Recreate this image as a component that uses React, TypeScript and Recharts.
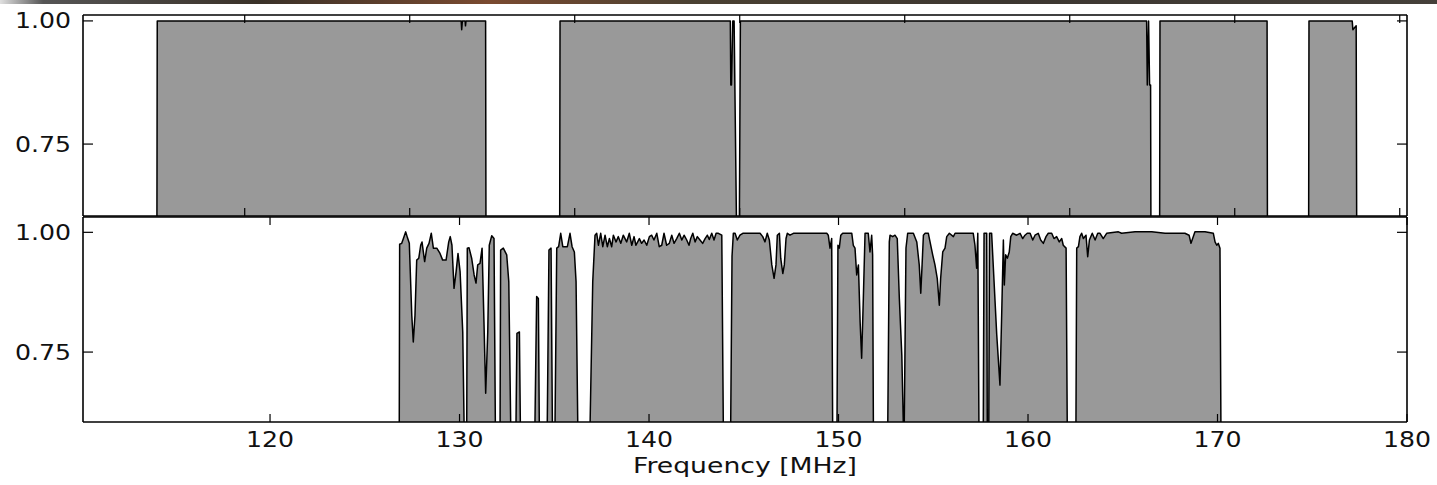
import React from 'react';
import { ComposedChart, Area, XAxis, YAxis } from 'recharts';

const FLOOR = 0.6;

// upper panel: flagged-free bands (transmission vs. channel frequency)
const topBandA = [[114.68, FLOOR], [114.7, 1.0], [133.12, 1.0], [133.15, 0.982], [133.19, 1.0], [133.36, 1.0], [133.38, 0.99], [133.41, 1.0], [134.6, 1.0], [134.62, FLOOR]];
const topBandB = [[139.09, FLOOR], [139.11, 1.0], [149.43, 1.0], [149.46, 0.87], [149.5, 0.87], [149.58, 1.0], [149.66, 1.0], [149.8, FLOOR]];
const topBandC = [[149.98, FLOOR], [150.04, 1.0], [174.66, 1.0], [174.7, 0.87], [174.78, 1.0], [174.84, 0.87], [174.9, 0.87], [174.92, FLOOR]];
const topBandD = [[175.45, FLOOR], [175.47, 1.0], [181.96, 1.0], [181.98, FLOOR]];
const topBandE = [[184.48, FLOOR], [184.5, 1.0], [187.12, 1.0], [187.16, 0.982], [187.36, 0.99], [187.39, FLOOR]];

// lower panel
const botBandA = [[126.82, FLOOR], [126.84, 0.975], [126.95, 0.977], [127.07, 0.991], [127.16, 1.001], [127.25, 0.989], [127.35, 0.977], [127.48, 0.827], [127.56, 0.771], [127.65, 0.827], [127.74, 0.942], [127.85, 0.946], [127.95, 0.973], [128.02, 0.98], [128.09, 0.959], [128.16, 0.939], [128.27, 0.967], [128.39, 0.977], [128.51, 0.998], [128.62, 0.967], [128.8, 0.967], [128.97, 0.956], [129.11, 0.942], [129.29, 0.942], [129.43, 0.98], [129.51, 0.991], [129.6, 0.973], [129.71, 0.883], [129.82, 0.918], [129.92, 0.956], [130.03, 0.918], [130.17, 0.792], [130.24, FLOOR]];
const botBandB = [[130.38, FLOOR], [130.41, 0.967], [130.5, 0.968], [130.64, 0.946], [130.77, 0.911], [130.87, 0.894], [130.96, 0.932], [131.08, 0.935], [131.19, 0.967], [131.29, 0.813], [131.38, 0.664], [131.49, 0.792], [131.57, 0.973], [131.7, 0.993], [131.82, 0.987], [131.89, FLOOR]];
const botBandC = [[132.14, FLOOR], [132.17, 0.963], [132.31, 0.967], [132.49, 0.953], [132.6, 0.897], [132.7, FLOOR]];
const botBandD = [[132.98, FLOOR], [133.03, 0.789], [133.16, 0.792], [133.21, FLOOR]];
const botBandE = [[133.98, FLOOR], [134.07, 0.866], [134.16, 0.862], [134.21, FLOOR]];
const botBandF = [[134.63, FLOOR], [134.72, 0.963], [134.83, 0.967], [134.9, FLOOR]];
const botBandG = [[135.04, FLOOR], [135.13, 0.967], [135.23, 0.97], [135.34, 0.998], [135.45, 0.97], [135.69, 0.97], [135.83, 0.998], [135.94, 0.97], [136.06, 0.959], [136.15, 0.897], [136.24, FLOOR]];
const botBandH = [[136.89, FLOOR], [137.03, 0.897], [137.15, 0.994], [137.24, 0.998], [137.33, 0.973], [137.45, 0.998], [137.56, 0.97], [137.68, 0.994], [137.8, 0.97], [137.91, 0.987], [138.03, 0.97], [138.12, 0.994], [138.26, 0.98], [138.38, 0.991], [138.51, 0.977], [138.64, 0.994], [138.82, 0.98], [138.96, 0.998], [139.09, 0.973], [139.21, 0.991], [139.31, 0.973], [139.49, 0.987], [139.61, 0.977], [139.74, 0.984], [139.88, 0.973], [140.02, 0.991], [140.14, 0.994], [140.26, 0.984], [140.41, 0.998], [140.54, 0.97], [140.67, 0.973], [140.79, 0.998], [140.93, 0.973], [141.07, 0.977], [141.2, 0.994], [141.32, 0.977], [141.46, 0.987], [141.6, 0.998], [141.73, 0.984], [141.85, 0.994], [141.99, 0.984], [142.11, 0.973], [142.2, 0.987], [142.31, 0.998], [142.43, 0.98], [142.55, 0.991], [142.69, 0.984], [142.83, 0.977], [142.96, 0.987], [143.08, 0.994], [143.18, 0.985], [143.31, 0.998], [143.43, 0.984], [143.54, 0.998], [143.66, 0.998], [143.84, 0.994], [143.92, FLOOR]];
const botBandI = [[144.31, FLOOR], [144.38, 0.95], [144.45, 0.998], [144.54, 0.998], [144.66, 0.984], [144.8, 0.994], [144.95, 0.998], [145.86, 0.998], [146.0, 0.991], [146.12, 0.98], [146.24, 0.998], [146.35, 0.984], [146.48, 0.932], [146.6, 0.904], [146.7, 0.932], [146.77, 0.994], [146.88, 0.998], [146.95, 0.946], [147.06, 0.914], [147.14, 0.932], [147.23, 0.987], [147.3, 0.998], [147.44, 0.994], [147.62, 0.998], [148.85, 0.998], [149.38, 0.998], [149.46, 0.994], [149.55, 0.967], [149.64, 0.987], [149.69, FLOOR]];
const botBandJ = [[149.92, FLOOR], [149.97, 0.973], [150.04, 0.967], [150.12, 0.994], [150.22, 0.998], [150.7, 0.998], [150.78, 0.973], [150.87, 0.967], [150.96, 0.911], [151.05, 0.932], [151.14, 0.813], [151.22, 0.737], [151.31, 0.862], [151.4, 0.998], [151.57, 0.998], [151.66, 0.959], [151.75, 0.994], [151.8, 0.953], [151.84, FLOOR]];
const botBandK = [[152.6, FLOOR], [152.68, 0.98], [152.72, 0.994], [152.86, 0.991], [152.98, 0.994], [153.1, 0.987], [153.21, 0.862], [153.34, 0.744], [153.42, FLOOR]];
const botBandL = [[153.47, FLOOR], [153.56, 0.967], [153.65, 0.998], [153.95, 0.998], [154.13, 0.98], [154.26, 0.932], [154.34, 0.873], [154.41, 0.932], [154.48, 0.994], [154.57, 0.998], [154.74, 0.998], [154.83, 0.98], [154.97, 0.953], [155.09, 0.932], [155.21, 0.904], [155.32, 0.848], [155.39, 0.904], [155.5, 0.959], [155.62, 0.967], [155.71, 0.991], [155.85, 0.998], [156.06, 0.991], [156.15, 0.998], [157.11, 0.998], [157.2, 0.973], [157.29, 0.925], [157.35, 0.998], [157.41, FLOOR]];
const botBandM = [[157.64, FLOOR], [157.68, 0.998], [157.82, 0.998], [157.85, FLOOR]];
const botBandN = [[157.93, FLOOR], [157.97, 0.998], [158.08, 0.998], [158.35, 0.786], [158.52, 0.681], [158.61, 0.827], [158.7, 0.984], [158.75, 0.89], [158.82, 0.953], [158.91, 0.946], [159.01, 0.959], [159.09, 0.991], [159.19, 0.998], [159.4, 0.994], [159.58, 0.998], [159.72, 0.987], [159.84, 0.994], [159.96, 0.998], [160.11, 0.998], [160.25, 0.984], [160.37, 0.994], [160.54, 0.998], [160.67, 0.984], [160.81, 0.977], [160.95, 0.991], [161.07, 0.998], [161.25, 0.998], [161.37, 0.987], [161.51, 0.991], [161.65, 0.98], [161.78, 0.987], [161.86, 0.973], [162.01, 0.967], [162.07, FLOOR]];
const botBandO = [[162.53, FLOOR], [162.57, 0.967], [162.66, 0.97], [162.74, 0.991], [162.83, 0.998], [162.92, 0.987], [163.06, 0.994], [163.15, 0.949], [163.24, 0.984], [163.39, 0.998], [163.54, 0.984], [163.68, 0.998], [163.8, 0.998], [163.97, 0.987], [164.15, 0.998], [164.77, 1.001], [164.94, 0.998], [165.65, 1.001], [166.53, 1.001], [167.23, 0.998], [168.28, 0.998], [168.5, 0.994], [168.6, 0.977], [168.72, 0.991], [168.81, 1.001], [169.34, 1.001], [169.78, 0.998], [169.87, 0.98], [169.96, 0.973], [170.04, 0.977], [170.13, 0.967], [170.18, FLOOR]];

const topTicksX = [120, 130, 140, 150, 160, 170, 180, 190];
const botTicksX = [120, 130, 140, 150, 160, 170, 180];
const ticksY = [0.75, 1.0];

const toRows = (bands: number[][][]) => bands.flat().map(([f, v]) => ({ f, v }));
const topData = toRows([topBandA, topBandB, topBandC, topBandD, topBandE]);
const botData = toRows([botBandA, botBandB, botBandC, botBandD, botBandE, botBandF, botBandG, botBandH, botBandI, botBandJ, botBandK, botBandL, botBandM, botBandN, botBandO]);

const FONT = "'DejaVu Sans', sans-serif";
const INK = '#000';
const axisLine = { stroke: INK, strokeWidth: 1.6 };

// matplotlib style: ticks point inward, labels outside
const BottomTick = (p: any, label: boolean) => (
  <g>
    <line x1={p.x} y1={p.y} x2={p.x} y2={p.y - 8} stroke={INK} strokeWidth={1.2} />
    {label && (
      <text transform={`translate(${p.x},${p.y + 25}) scale(1.2,1)`} textAnchor="middle" fontFamily={FONT} fontSize={21} fill="#111">
        {p.payload.value}
      </text>
    )}
  </g>
);
const TopTick = (p: any) => <line x1={p.x} y1={p.y} x2={p.x} y2={p.y + 8} stroke={INK} strokeWidth={1.2} />;
const LeftTick = (p: any) => (
  <g>
    <line x1={p.x} y1={p.y} x2={p.x + 10} y2={p.y} stroke={INK} strokeWidth={1.2} />
    <text transform={`translate(${p.x - 12},${p.y + 7.5}) scale(1.2,1)`} textAnchor="end" fontFamily={FONT} fontSize={21} fill="#111">
      {Number(p.payload.value).toFixed(2)}
    </text>
  </g>
);
const RightTick = (p: any) => <line x1={p.x - 10} y1={p.y} x2={p.x} y2={p.y} stroke={INK} strokeWidth={1.2} />;

function Panel({ data, xDomain, yDomain, xTicks, labels, height, margin }: any) {
  return (
    <ComposedChart width={1437} height={height} data={data} margin={margin}>
      <XAxis xAxisId="b" dataKey="f" type="number" domain={xDomain} allowDataOverflow ticks={xTicks} height={1}
        tickSize={0} tickMargin={0} tickLine={false} axisLine={axisLine} interval={0}
        tick={(p: any) => BottomTick(p, labels)} />
      <XAxis xAxisId="t" dataKey="f" type="number" orientation="top" domain={xDomain} allowDataOverflow ticks={xTicks} height={1}
        tickSize={0} tickMargin={0} tickLine={false} axisLine={axisLine} interval={0} tick={TopTick} />
      <YAxis yAxisId="l" type="number" domain={yDomain} allowDataOverflow ticks={ticksY} width={1}
        tickSize={0} tickMargin={0} tickLine={false} axisLine={axisLine} interval={0} tick={LeftTick} />
      <YAxis yAxisId="r" orientation="right" type="number" domain={yDomain} allowDataOverflow ticks={ticksY} width={1}
        tickSize={0} tickMargin={0} tickLine={false} axisLine={axisLine} interval={0} tick={RightTick} />
      <Area xAxisId="b" yAxisId="l" type="linear" dataKey="v" fill="#999999" fillOpacity={1} stroke={INK}
        strokeWidth={1.5} strokeLinejoin="round" dot={false} activeDot={false} isAnimationActive={false} />
    </ComposedChart>
  );
}

export default function App() {
  return (
    <div style={{ position: 'absolute', left: 0, top: 0, width: 1437, height: 485, background: '#fff', overflow: 'hidden' }}>
      <div style={{ position: 'absolute', left: 0, top: 0, width: 1437, height: 4,
        background: 'linear-gradient(to right, #e0e0e0 0%, #555 3%, #3a3128 18%, #7a4a30 34%, #4b4132 48%, #3c3630 70%, #45403a 100%)' }} />
      <div style={{ position: 'absolute', left: 0, top: 0 }}>
        <Panel data={topData} xDomain={[110.2, 190.44]} yDomain={[0.604, 1.012]} xTicks={topTicksX} labels={false}
          height={230} margin={{ top: 14, bottom: 13, left: 82, right: 29 }} />
      </div>
      <div style={{ position: 'absolute', left: 0, top: 210 }}>
        <Panel data={botData} xDomain={[110.13, 180]} yDomain={[0.604, 1.032]} xTicks={botTicksX} labels={true}
          height={275} margin={{ top: 6, bottom: 62, left: 82, right: 29 }} />
      </div>
      <svg style={{ position: 'absolute', left: 0, top: 440 }} width={1437} height={45}>
        <text transform="translate(745,33) scale(1.3,1)" textAnchor="middle" fontFamily={FONT} fontSize={20.5} fill="#111">
          Frequency [MHz]
        </text>
      </svg>
    </div>
  );
}
